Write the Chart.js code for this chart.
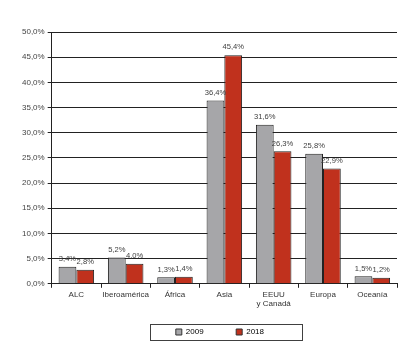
<!DOCTYPE html>
<html><head><meta charset="utf-8">
<script src="https://cdn.jsdelivr.net/npm/chart.js@4/dist/chart.umd.min.js"></script>
<style>html,body{margin:0;padding:0;background:#fff}#wrap{width:411px;height:360px}</style>
</head><body><div id="wrap"><canvas id="c" width="411" height="360"></canvas></div>
<script>
const categories = ["ALC", "Iberoamérica", "África", "Asia", ["EEUU", "y Canadá"], "Europa", "Oceanía"];
const series2009 = [3.4, 5.2, 1.3, 36.4, 31.6, 25.8, 1.5];
const series2018 = [2.8, 4.0, 1.4, 45.4, 26.3, 22.9, 1.2];
const seriesNames = ["2009", "2018"];
const yTicks = [0, 5, 10, 15, 20, 25, 30, 35, 40, 45, 50];

const fmt = v => v.toFixed(1).replace('.', ',') + '%';

const labelPlugin = {
  id: 'valLabels',
  afterDatasetsDraw(chart) {
    const ctx = chart.ctx;
    ctx.save();
    ctx.font = '7.6px "Liberation Sans", Arial, sans-serif';
    ctx.fillStyle = '#404040';
    ctx.textAlign = 'center';
    ctx.textBaseline = 'bottom';
    chart.data.datasets.forEach((ds, i) => {
      chart.getDatasetMeta(i).data.forEach((bar, j) => {
        ctx.fillText(fmt(ds.data[j]), bar.x, bar.y - 4);
      });
    });
    ctx.restore();
  }
};
const legendBox = {
  id: 'legendBox',
  afterDraw(chart) {
    const lg = chart.legend;
    if (!lg || !lg.legendHitBoxes.length) return;
    const hb = lg.legendHitBoxes;
    const x0 = hb[0].left - 26, x1 = hb[hb.length-1].left + 66;
    const y0 = hb[0].top - 4, y1 = hb[0].top + hb[0].height + 4;
    const ctx = chart.ctx;
    ctx.save();
    ctx.strokeStyle = '#404040';
    ctx.lineWidth = 1;
    ctx.strokeRect(Math.round(x0)+0.5, Math.round(y0)+0.5, Math.round(x1-x0), Math.round(y1-y0));
    ctx.restore();
  }
};

new Chart(document.getElementById('c'), {
  type: 'bar',
  data: {
    labels: categories,
    datasets: [
      { label: seriesNames[0], data: series2009, backgroundColor: '#a6a6a9', borderColor: '#222', borderWidth: 1, categoryPercentage: 0.72, barPercentage: 1 },
      { label: seriesNames[1], data: series2018, backgroundColor: '#c0311d', borderColor: '#222', borderWidth: 1, categoryPercentage: 0.72, barPercentage: 1 }
    ]
  },
  options: {
    responsive: false,
    animation: false,
    devicePixelRatio: 1,
    layout: { padding: { left: 19, right: 14, top: 32, bottom: 14 } },
    plugins: {
      legend: {
        position: 'bottom',
        fullSize: false,
        labels: {
          boxWidth: 6, boxHeight: 6, padding: 17,
          font: { size: 8, family: '"Liberation Sans", Arial, sans-serif' },
          color: '#333',
          generateLabels(chart) {
            return chart.data.datasets.map((ds, i) => ({
              text: ds.label + (i === 0 ? '       ' : '    '),
              fillStyle: ds.backgroundColor,
              strokeStyle: '#333',
              lineWidth: 1,
              datasetIndex: i
            }));
          }
        }
      },
      tooltip: { enabled: false }
    },
    scales: {
      x: {
        grid: { display: true, drawOnChartArea: false, drawTicks: true, tickLength: 4, color: '#222', offset: true },
        border: { color: '#222' },
        ticks: { color: '#333', font: { size: 8, family: '"Liberation Sans", Arial, sans-serif' }, padding: 2, maxRotation: 0, autoSkip: false }
      },
      y: {
        min: 0, max: 50,
        afterBuildTicks(axis) { axis.ticks = yTicks.map(v => ({ value: v })); },
        grid: { color: '#222', lineWidth: 1, tickLength: 4 },
        border: { color: '#222' },
        ticks: { color: '#444', font: { size: 8, family: '"Liberation Sans", Arial, sans-serif' }, padding: 3, callback: v => fmt(v) }
      }
    }
  },
  plugins: [labelPlugin, legendBox]
});
</script></body></html>
